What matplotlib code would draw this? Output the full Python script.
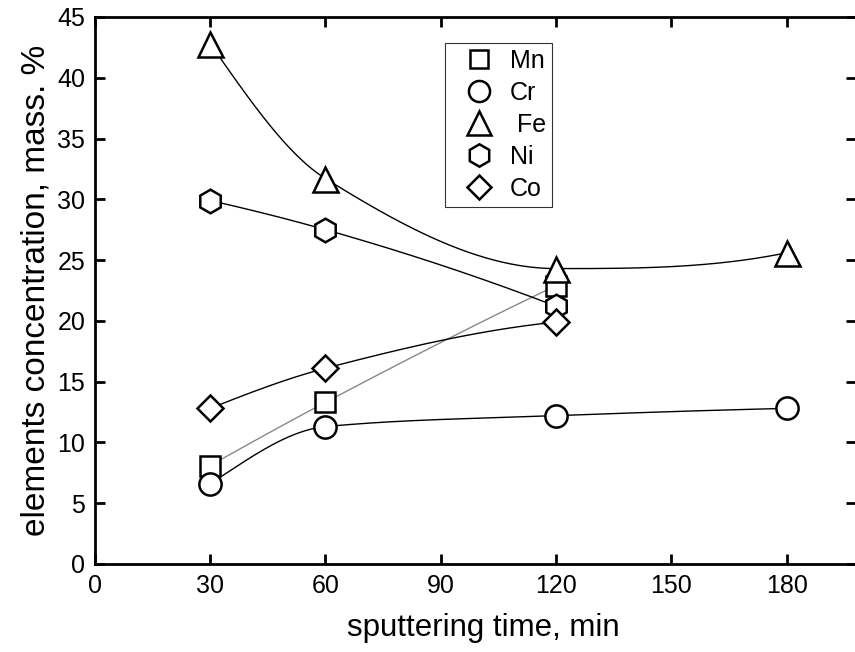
import numpy as np
import matplotlib
matplotlib.use("Agg")
import matplotlib.pyplot as plt

plt.rcParams['font.family'] = ['Liberation Sans', 'DejaVu Sans']

# sputtering time, min
time_long = [30, 60, 120, 180]
time_short = [30, 60, 120]

# elements concentration, mass. %
mn = [8.1, 13.3, 22.9]
cr = [6.6, 11.3, 12.2, 12.8]
fe = [42.8, 31.7, 24.3, 25.6]
ni = [29.9, 27.5, 21.2]
co = [12.8, 16.1, 19.9]


def pchip(x, y, n=200):
    """monotone cubic through the points, for the smooth guide lines"""
    x = np.asarray(x, float)
    y = np.asarray(y, float)
    h = np.diff(x)
    d = np.diff(y) / h
    m = np.zeros_like(y)
    for k in range(1, len(x) - 1):
        if d[k - 1] * d[k] > 0:
            w1 = 2 * h[k] + h[k - 1]
            w2 = h[k] + 2 * h[k - 1]
            m[k] = (w1 + w2) / (w1 / d[k - 1] + w2 / d[k])
    m[0] = d[0]
    m[-1] = d[-1]
    if len(x) > 2:
        for i, j, a, b in ((0, 0, h[0], h[1]), (-1, -1, h[-1], h[-2])):
            dn = d[1] if i == 0 else d[-2]
            me = ((2 * a + b) * d[j] - a * dn) / (a + b)
            if np.sign(me) != np.sign(d[j]):
                me = 0.0
            elif abs(me) > 3 * abs(d[j]):
                me = 3 * d[j]
            m[i] = me
    xs = np.linspace(x[0], x[-1], n)
    idx = np.clip(np.searchsorted(x, xs) - 1, 0, len(x) - 2)
    t = (xs - x[idx]) / h[idx]
    h00 = 2 * t**3 - 3 * t**2 + 1
    h10 = t**3 - 2 * t**2 + t
    h01 = -2 * t**3 + 3 * t**2
    h11 = t**3 - t**2
    ys = h00 * y[idx] + h10 * h[idx] * m[idx] + h01 * y[idx + 1] + h11 * h[idx] * m[idx + 1]
    return xs, ys


fig = plt.figure(figsize=(8.55, 6.52), dpi=100)
ax = fig.add_axes([0.111, 0.135, 0.890, 0.839])

series = [
    ("Mn", time_short, mn, 's', 14, '#888888'),
    ("Cr", time_long, cr, 'o', 16, 'black'),
    ("Fe", time_long, fe, '^', 18, 'black'),
    ("Ni", time_short, ni, 'h', 17, 'black'),
    ("Co", time_short, co, 'D', 13, 'black'),
]

for name, xv, yv, mk, ms, lc in series:
    xs, ys = pchip(xv, yv)
    ax.plot(xs, ys, color=lc, lw=1.0, zorder=2)

handles = []
for name, xv, yv, mk, ms, lc in series:
    h, = ax.plot(xv, yv, linestyle='none', marker=mk, markersize=ms,
                 markerfacecolor='white', markeredgecolor='black',
                 markeredgewidth=1.8, zorder=3, label=name)
    handles.append(h)

labels = ["Mn", "Cr", " Fe", "Ni", "Co"]
leg = ax.legend(handles, labels, loc='upper left', bbox_to_anchor=(0.46, 0.953),
                fontsize=18, frameon=True, fancybox=False, edgecolor='black',
                handlelength=2.2, handletextpad=0.15, labelspacing=0.32,
                borderpad=0.25, borderaxespad=0, markerscale=0.95)
leg.get_frame().set_linewidth(0.8)

ax.set_xlim(0, 198)
ax.set_ylim(0, 45)
ax.set_xticks([0, 30, 60, 90, 120, 150, 180])
ax.set_yticks(range(0, 46, 5))
ax.tick_params(direction='in', length=7, width=2, labelsize=18,
               top=True, right=True, pad=7)
for sp in ax.spines.values():
    sp.set_linewidth(2)

ax.set_xlabel("sputtering time, min", fontsize=22.5)
ax.xaxis.set_label_coords(0.511, -0.09)
ax.set_ylabel("elements concentration, mass. %", fontsize=24, labelpad=4)

fig.savefig("out.png", dpi=100)
